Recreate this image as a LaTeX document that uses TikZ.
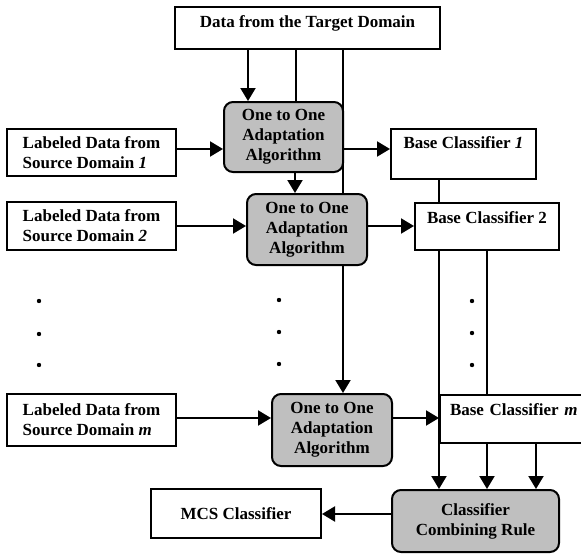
\documentclass[tikz,border=0pt]{standalone}
\usepackage{fontspec}
\setmainfont{Liberation Serif}
\usetikzlibrary{arrows.meta,backgrounds}
\begin{document}
\begin{tikzpicture}[x=1pt,y=-1pt,
  every node/.style={font=\bfseries\fontsize{17}{20}\selectfont},
  box/.style={draw, line width=2pt, fill=white, inner sep=0pt},
  proc/.style={draw, line width=2pt, fill=gray!50, rounded corners=9pt, inner sep=0pt, align=center},
  conn/.style={line width=2pt},
  arr/.style={line width=2pt, -{Triangle[length=13pt,width=15pt]}},
]
\useasboundingbox (0,0) rectangle (581,557);
\clip (0,0) rectangle (581,557);

% boxes
\node[box, minimum width=265pt, text height=20pt, text depth=22pt, anchor=north] (tgt) at (307.5,6) {Data from the Target Domain};

\node[box, minimum width=169pt, minimum height=47pt, align=left] (s1) at (91.5,152.5) {Labeled Data from\\Source Domain \textit{1}};
\node[box, minimum width=169pt, minimum height=48pt, align=left] (s2) at (91.5,226) {Labeled Data from\\Source Domain \textit{2}};
\node[box, minimum width=169pt, minimum height=52pt, align=left] (sm) at (91.5,420) {Labeled Data from\\Source Domain \textit{m}};

\node[proc, minimum width=119pt, minimum height=70pt] (ada1) at (283.5,137) {One to One\\Adaptation\\Algorithm};
\node[proc, minimum width=120pt, minimum height=71pt] (ada2) at (307,229.5) {One to One\\Adaptation\\Algorithm};
\node[proc, minimum width=120pt, minimum height=72pt] (adam) at (332,430) {One to One\\Adaptation\\Algorithm};

\node[box, minimum width=145pt, text height=19pt, text depth=31pt, anchor=north] (bc1) at (463.5,128) {Base Classifier \textit{1}};
\node[box, minimum width=144pt, text height=20pt, text depth=27pt, anchor=north] (bc2) at (487,202) {Base Classifier 2};
\node[box, inner xsep=10pt, text width=150pt, align=left, text height=20pt, text depth=28pt, anchor=north west] (bcm) at (439,394) {Base Classifier \textit{m}};

\node[proc, minimum width=167pt, minimum height=62pt] (comb) at (475.5,521) {Classifier\\Combining Rule};
\node[box, minimum width=170pt, minimum height=49pt] (mcs) at (236,513.5) {MCS Classifier};

% dots
\foreach \x/\a/\b/\c in {39/301/334/365, 279/300/332/364, 472/301/333/365}{
  \fill (\x,\a) circle (2.2pt);
  \fill (\x,\b) circle (2.2pt);
  \fill (\x,\c) circle (2.2pt);
}

% column / row helpers
\coordinate (xa) at (248,0);
\coordinate (xb) at (296,0);
\coordinate (xc) at (343,0);
\coordinate (xg) at (295,0);
\coordinate (xd) at (439,0);
\coordinate (xe) at (487,0);
\coordinate (xf) at (536,0);
\coordinate (y1) at (0,149);
\coordinate (y2) at (0,226);
\coordinate (y3) at (0,418);
\coordinate (y4) at (0,514);

\begin{pgfonlayer}{background}
\draw[arr] (tgt.south -| xa) -- (ada1.north -| xa);
\draw[conn] (tgt.south -| xb) -- (ada1.north -| xb);
\draw[arr] (tgt.south -| xc) -- (adam.north -| xc);
\draw[arr] (ada1.south -| xg) -- (ada2.north -| xg);
\draw[arr] (s1.east |- y1) -- (ada1.west |- y1);
\draw[arr] (s2.east |- y2) -- (ada2.west |- y2);
\draw[arr] (sm.east |- y3) -- (adam.west |- y3);
\draw[arr] (ada1.east |- y1) -- (bc1.west |- y1);
\draw[arr] (ada2.east |- y2) -- (bc2.west |- y2);
\draw[arr] (adam.east |- y3) -- (bcm.west |- y3);
\draw[conn] (bc1.south -| xd) -- (bc2.north -| xd);
\draw[arr] (bc2.south -| xd) -- (comb.north -| xd);
\draw[conn] (bc2.south -| xe) -- (bcm.north -| xe);
\draw[arr] (bcm.south -| xe) -- (comb.north -| xe);
\draw[arr] (bcm.south -| xf) -- (comb.north -| xf);
\draw[arr] (comb.west |- y4) -- (mcs.east |- y4);
\end{pgfonlayer}
\end{tikzpicture}
\end{document}
